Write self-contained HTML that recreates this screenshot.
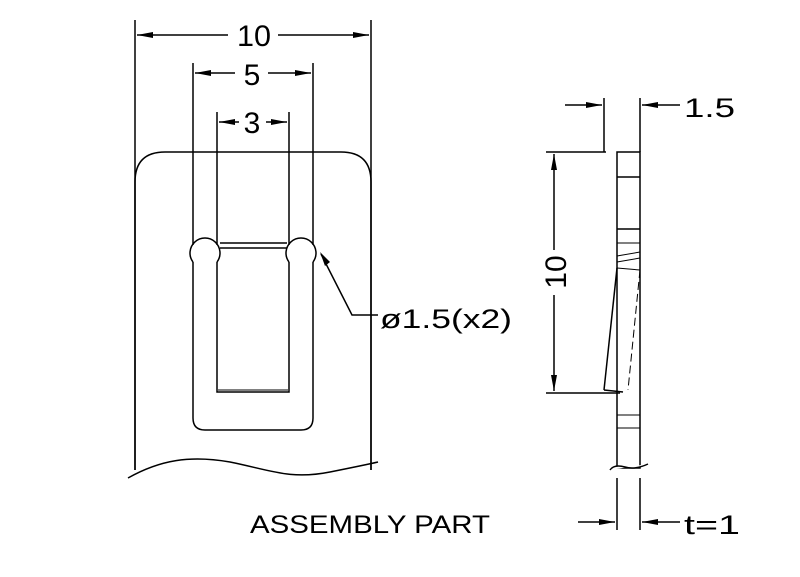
<!DOCTYPE html>
<html><head><style>body{margin:0;background:#fff}svg{display:block}</style></head><body>
<svg width="800" height="577" viewBox="0 0 800 577" xmlns="http://www.w3.org/2000/svg" font-family="Liberation Sans, sans-serif">
<defs>
<marker id="a" viewBox="0 0 16 6" refX="16" refY="3" markerWidth="16" markerHeight="6" orient="auto-start-reverse" markerUnits="userSpaceOnUse"><path d="M0,0L16,3L0,6z" fill="#000"/></marker>
</defs>
<g stroke="#000" stroke-width="1.5" fill="none">
<line x1="135" y1="20" x2="135" y2="470"/>
<line x1="371" y1="20" x2="371" y2="470"/>
<line x1="193" y1="63" x2="193" y2="245"/>
<line x1="313" y1="63" x2="313" y2="245"/>
<line x1="217" y1="112" x2="217" y2="245"/>
<line x1="289" y1="112" x2="289" y2="245"/>
<line x1="137" y1="35" x2="228" y2="35" marker-start="url(#a)"/>
<line x1="278" y1="35" x2="369" y2="35" marker-end="url(#a)"/>
<line x1="195" y1="73" x2="235" y2="73" marker-start="url(#a)"/>
<line x1="268" y1="73" x2="311" y2="73" marker-end="url(#a)"/>
<line x1="219" y1="122" x2="239" y2="122" marker-start="url(#a)"/>
<line x1="266" y1="122" x2="287" y2="122" marker-end="url(#a)"/>
<path d="M135,470 L135,182 Q135,152 165,152 L341,152 Q371,152 371,182 L371,470"/>
<path d="M128,478 C160,460 190,455 230,462 C270,470 290,480 330,472 C350,468 365,465 378,462"/>
<path d="M193,262 L193,418 Q193,430 205,430 L301,430 Q313,430 313,418 L313,262"/>
<path d="M193,262 A15,15 0 1 1 217,262"/>
<path d="M289,262 A15,15 0 1 1 313,262"/>
<path d="M217,262 L217,392 L289,392 L289,262"/>
<line x1="220" y1="243" x2="287" y2="243"/><line x1="220" y1="248" x2="287" y2="248"/>
<line x1="218" y1="390" x2="288" y2="390" stroke-width="1"/>
<polyline points="321,254 352,315 378,315"/>
<path d="M320,252 L330,262 L325,266z" fill="#000" stroke="none"/>
<line x1="604" y1="98" x2="604" y2="152"/>
<line x1="640" y1="98" x2="640" y2="152"/>
<line x1="565" y1="105" x2="602" y2="105" marker-end="url(#a)"/>
<line x1="680" y1="105" x2="642" y2="105" marker-end="url(#a)"/>
<line x1="546" y1="152" x2="606" y2="152"/>
<line x1="546" y1="393" x2="620" y2="393"/>
<line x1="554" y1="154" x2="554" y2="250" marker-start="url(#a)"/>
<line x1="554" y1="295" x2="554" y2="391" marker-end="url(#a)"/>
<rect x="617" y="152" width="23" height="316"/>
<line x1="617" y1="177" x2="640" y2="177"/>
<line x1="617" y1="229" x2="640" y2="229"/>
<line x1="617" y1="243" x2="640" y2="243" stroke-width="1"/>
<line x1="617" y1="256" x2="640" y2="252" stroke-width="1"/>
<line x1="617" y1="262" x2="640" y2="258" stroke-width="1"/>
<line x1="617" y1="268" x2="640" y2="270" stroke-width="1"/>
<line x1="617" y1="268" x2="604" y2="390"/>
<line x1="604" y1="390" x2="623" y2="392"/>
<line x1="640" y1="270" x2="628" y2="390" stroke-dasharray="8,4" stroke-width="1"/>
<line x1="617" y1="415" x2="640" y2="415" stroke-width="1"/>
<line x1="617" y1="428" x2="640" y2="428" stroke-width="1"/>
<path d="M610,470 Q614,464 625,467 Q635,470 648,464" fill="#fff"/>
<line x1="617" y1="478" x2="617" y2="530"/>
<line x1="640" y1="478" x2="640" y2="530"/>
<line x1="578" y1="522" x2="615" y2="522" marker-end="url(#a)"/>
<line x1="680" y1="522" x2="642" y2="522" marker-end="url(#a)"/>
</g>
<g font-size="30" fill="#000">
<text x="237" y="46" textLength="34" lengthAdjust="spacingAndGlyphs">10</text>
<text x="252" y="85" text-anchor="middle">5</text>
<text x="252" y="133" text-anchor="middle">3</text>
<text x="380" y="328" font-size="27" textLength="132" lengthAdjust="spacingAndGlyphs">ø1.5(x2)</text>
<text x="684" y="117" font-size="27" textLength="51" lengthAdjust="spacingAndGlyphs">1.5</text>
<text x="684" y="534" font-size="27" textLength="56" lengthAdjust="spacingAndGlyphs">t=1</text>
<text x="250" y="533" font-size="25" textLength="240" lengthAdjust="spacingAndGlyphs">ASSEMBLY PART</text>
<text transform="translate(566,272) rotate(-90)" text-anchor="middle" font-size="30">10</text>
</g>
</svg>
</body></html>
